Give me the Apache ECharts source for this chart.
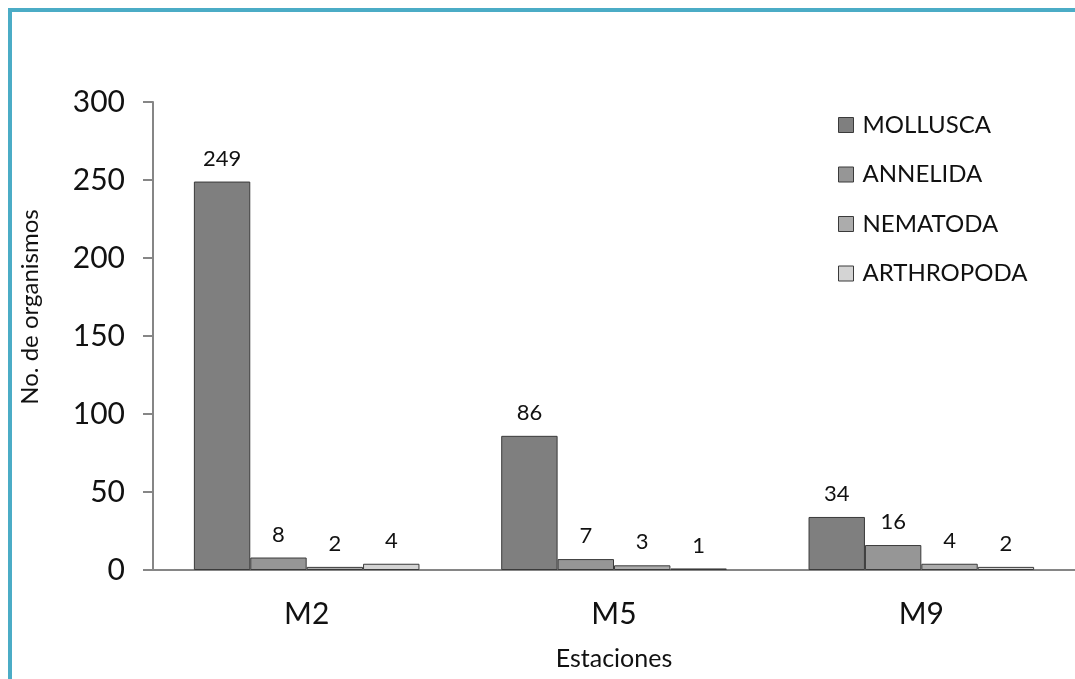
<!DOCTYPE html>
<html>
<head>
<meta charset="utf-8">
<script src="https://cdn.jsdelivr.net/npm/echarts@6/dist/echarts.min.js"></script>
<style>
  html, body { margin: 0; padding: 0; background: #ffffff; }
  #chart { width: 1075px; height: 679px; }
</style>
</head>
<body>
<div id="chart"></div>
<script>
// Stations and organism counts per phylum
const stations = ['M2', 'M5', 'M9'];
const mollusca = [249, 86, 34];
const annelida = [8, 7, 16];
const nematoda = [2, 3, 4];
const arthropoda = [4, 1, 2];
const yTicks = [0, 50, 100, 150, 200, 250, 300];

const FONT = 'Lato, "Open Sans", sans-serif';
const TEXT = '#111111';

function makeSeries(name, data, color) {
  return {
    name: name,
    type: 'bar',
    data: data,
    color: color,
    barGap: '0%',
    barCategoryGap: '26.6%',
    itemStyle: { color: color, borderColor: '#3a3a3a', borderWidth: 1 },
    label: {
      show: true,
      position: 'top',
      distance: 12,
      fontFamily: FONT,
      fontSize: 22,
      color: TEXT
    }
  };
}

const chart = echarts.init(document.getElementById('chart'));
chart.setOption({
  animation: false,
  backgroundColor: '#ffffff',
  grid: { left: 153, top: 102, width: 928, height: 468 },
  legend: {
    orient: 'vertical',
    left: 838,
    top: 113,
    padding: 0,
    itemWidth: 15,
    itemHeight: 15,
    itemGap: 25.5,
    icon: 'path://M0,0H10V10H0Z',
    itemStyle: { borderColor: '#3a3a3a', borderWidth: 1 },
    textStyle: { fontFamily: FONT, fontSize: 24, color: TEXT, padding: [0, 0, 0, 4] },
    data: ['MOLLUSCA', 'ANNELIDA', 'NEMATODA', 'ARTHROPODA']
  },
  xAxis: {
    type: 'category',
    data: stations,
    name: 'Estaciones',
    nameLocation: 'middle',
    nameGap: 76,
    nameTextStyle: { fontFamily: FONT, fontSize: 25, color: TEXT },
    axisLine: { lineStyle: { color: '#868686', width: 2 } },
    axisTick: { show: false },
    axisLabel: { fontFamily: FONT, fontSize: 30, color: TEXT, margin: 29 }
  },
  yAxis: {
    type: 'value',
    min: yTicks[0],
    max: yTicks[yTicks.length - 1],
    interval: yTicks[1] - yTicks[0],
    axisLine: { show: true, lineStyle: { color: '#868686', width: 2 } },
    axisTick: { show: true, length: 10, lineStyle: { color: '#868686', width: 2 } },
    splitLine: { show: false },
    axisLabel: { fontFamily: FONT, fontSize: 30, color: TEXT, margin: 28 }
  },
  graphic: [
    // teal frame along the top and left edges
    { type: 'rect', shape: { x: 8, y: 8, width: 1067, height: 4 }, style: { fill: '#4bacc6' }, silent: true },
    { type: 'rect', shape: { x: 8, y: 8, width: 4, height: 671 }, style: { fill: '#4bacc6' }, silent: true },
    {
      type: 'text',
      x: 30,
      y: 307,
      rotation: Math.PI / 2,
      style: {
        text: 'No. de organismos',
        fontFamily: FONT,
        fontSize: 24,
        fill: TEXT,
        align: 'center',
        verticalAlign: 'middle'
      }
    }
  ],
  series: [
    makeSeries('MOLLUSCA', mollusca, '#7f7f7f'),
    makeSeries('ANNELIDA', annelida, '#969696'),
    makeSeries('NEMATODA', nematoda, '#acacac'),
    makeSeries('ARTHROPODA', arthropoda, '#d4d4d4')
  ]
});
</script>
</body>
</html>
